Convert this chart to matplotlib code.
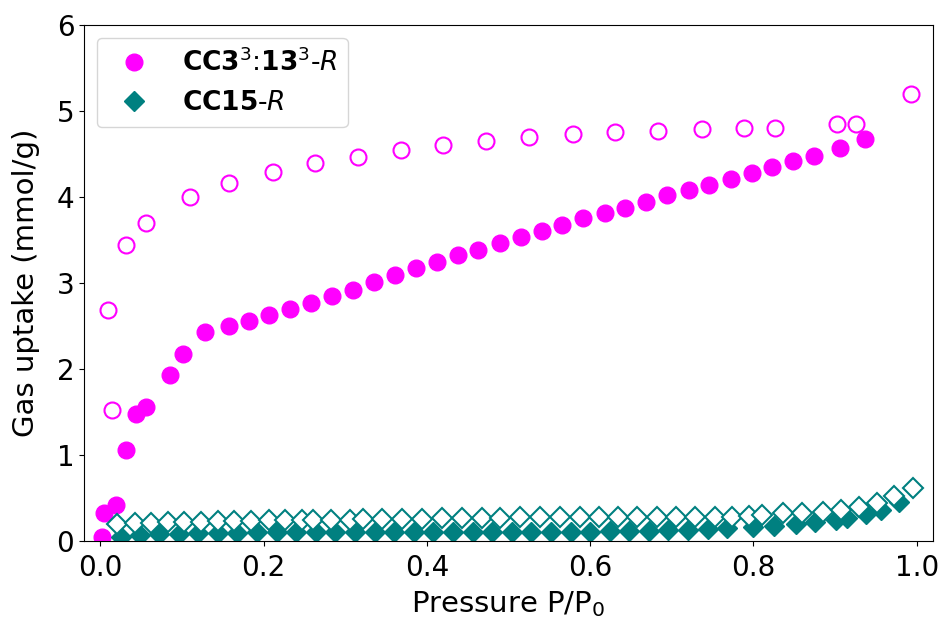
import numpy as np
import matplotlib
matplotlib.use('Agg')
import matplotlib.pyplot as plt

# CC3^3:13^3-R adsorption (filled) and desorption (open)
cc3_ads_p = [0.0016, 0.004, 0.0196, 0.031, 0.044, 0.056, 0.085, 0.101, 0.128, 0.157,
             0.182, 0.207, 0.232, 0.258, 0.284, 0.310, 0.335, 0.361, 0.387, 0.412,
             0.438, 0.463, 0.489, 0.515, 0.541, 0.566, 0.591, 0.618, 0.643, 0.669,
             0.694, 0.721, 0.746, 0.772, 0.798, 0.823, 0.849, 0.874, 0.906, 0.937]
cc3_ads_q = [0.05, 0.33, 0.42, 1.06, 1.48, 1.56, 1.93, 2.18, 2.43, 2.50,
             2.56, 2.63, 2.70, 2.77, 2.85, 2.92, 3.01, 3.09, 3.18, 3.24,
             3.32, 3.38, 3.46, 3.54, 3.61, 3.67, 3.75, 3.81, 3.87, 3.94,
             4.02, 4.08, 4.14, 4.21, 4.28, 4.35, 4.42, 4.48, 4.57, 4.68]
cc3_des_p = [0.0098, 0.014, 0.032, 0.056, 0.110, 0.158, 0.211, 0.263, 0.316, 0.368,
             0.420, 0.473, 0.525, 0.579, 0.631, 0.683, 0.737, 0.789, 0.827, 0.903,
             0.926, 0.993]
cc3_des_q = [2.69, 1.52, 3.44, 3.70, 4.00, 4.16, 4.29, 4.39, 4.47, 4.55,
             4.60, 4.65, 4.70, 4.73, 4.76, 4.77, 4.79, 4.80, 4.80, 4.85,
             4.85, 5.20]

# CC15-R adsorption (filled) and desorption (open)
cc15_ads_p = [0.025, 0.048, 0.072, 0.096, 0.120, 0.144, 0.168, 0.192, 0.216, 0.240,
              0.264, 0.288, 0.312, 0.336, 0.360, 0.384, 0.408, 0.432, 0.456, 0.480,
              0.504, 0.528, 0.552, 0.576, 0.600, 0.624, 0.648, 0.672, 0.696, 0.720,
              0.744, 0.768, 0.800, 0.825, 0.852, 0.876, 0.901, 0.915, 0.938, 0.956,
              0.979]
cc15_ads_q = [0.05, 0.07, 0.08, 0.08, 0.09, 0.09, 0.09, 0.10, 0.10, 0.10,
              0.10, 0.10, 0.10, 0.10, 0.10, 0.11, 0.11, 0.11, 0.11, 0.11,
              0.11, 0.11, 0.11, 0.11, 0.11, 0.12, 0.12, 0.12, 0.13, 0.13,
              0.14, 0.15, 0.16, 0.18, 0.20, 0.22, 0.25, 0.27, 0.31, 0.36,
              0.45]
cc15_des_p = [0.020, 0.042, 0.062, 0.083, 0.103, 0.123, 0.144, 0.164, 0.185, 0.206,
              0.226, 0.247, 0.261, 0.283, 0.306, 0.322, 0.345, 0.369, 0.394, 0.418,
              0.443, 0.467, 0.490, 0.514, 0.539, 0.563, 0.587, 0.611, 0.634, 0.658,
              0.682, 0.705, 0.729, 0.753, 0.774, 0.795, 0.811, 0.836, 0.860, 0.885,
              0.907, 0.930, 0.952, 0.972, 0.996]
cc15_des_q = [0.20, 0.21, 0.21, 0.22, 0.22, 0.22, 0.23, 0.23, 0.23, 0.24,
              0.24, 0.24, 0.25, 0.25, 0.25, 0.26, 0.26, 0.26, 0.26, 0.27,
              0.27, 0.27, 0.27, 0.28, 0.28, 0.28, 0.28, 0.28, 0.28, 0.28,
              0.28, 0.28, 0.28, 0.28, 0.28, 0.29, 0.30, 0.32, 0.32, 0.34,
              0.36, 0.39, 0.44, 0.52, 0.62]

magenta = '#ff00ff'
teal = '#008080'

fig = plt.figure(figsize=(9.42, 6.2), dpi=100)
ax = fig.add_axes([0.0892, 0.1274, 0.9012, 0.8323])

ax.plot(cc3_des_p, cc3_des_q, 'o', ms=11.5, mfc='none', mec=magenta, mew=1.5)
ax.plot(cc3_ads_p, cc3_ads_q, 'o', ms=12, color=magenta,
        label=r'$\mathbf{CC3}^{3}$:$\mathbf{13}^{3}$-$\it{R}$')
ax.plot(cc15_ads_p, cc15_ads_q, 'D', ms=10.5, color=teal,
        label=r'$\mathbf{CC15}$-$\it{R}$')
ax.plot(cc15_des_p, cc15_des_q, 'D', ms=10.5, mfc='white', mec=teal, mew=1.5)

ax.set_xlim(-0.02, 1.02)
ax.set_ylim(0, 6)
ax.set_xlabel(r'Pressure P/P$_0$', fontsize=21, labelpad=5)
ax.set_ylabel('Gas uptake (mmol/g)', fontsize=21, labelpad=12)
ax.tick_params(labelsize=20)
ax.tick_params(axis='x', pad=6)
ax.legend(loc='upper left', fontsize=19)

fig.savefig('out.png', dpi=100)
